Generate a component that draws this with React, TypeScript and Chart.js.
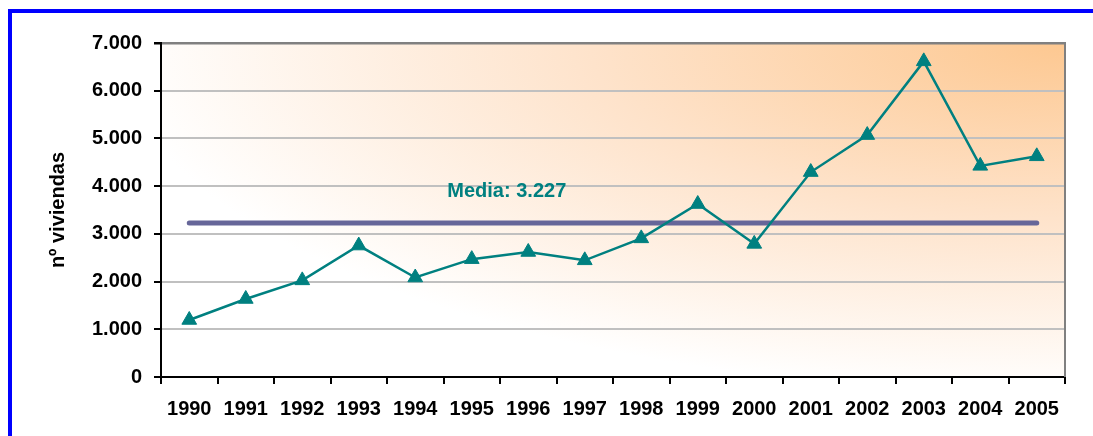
import React, { useEffect, useRef } from "react";
import { Chart, registerables } from "chart.js";

Chart.register(...registerables);

const years = ["1990", "1991", "1992", "1993", "1994", "1995", "1996", "1997", "1998", "1999", "2000", "2001", "2002", "2003", "2004", "2005"];
const viviendas = [1195, 1635, 2025, 2755, 2085, 2470, 2620, 2445, 2905, 3625, 2790, 4295, 5070, 6615, 4425, 4625];
const mediaValue = 3227;
const mediaLine = years.map(() => mediaValue);
const yAxisTitle = "nº viviendas";
const mediaPrefix = "Media: ";

const FONT = "'Liberation Sans', Arial, sans-serif";
const TEAL = "#008080";

const fmt = (v: number) => String(Math.round(v)).replace(/\B(?=(\d{3})+(?!\d))/g, ".");

const decorPlugin = {
  id: "decor",
  beforeDraw(chart: any) {
    const { ctx, chartArea: a } = chart;
    ctx.save();
    ctx.fillStyle = "#ffffff";
    ctx.fillRect(0, 0, chart.width, chart.height);
    ctx.fillStyle = "#0000FF";
    ctx.fillRect(8, 9, chart.width - 8, 4);
    ctx.fillRect(8, 9, 4, chart.height - 9);
    ctx.translate(a.left, a.top);
    ctx.scale(a.right - a.left, a.bottom - a.top);
    const g = ctx.createRadialGradient(1, 0, 0, 1, 0, 1.05);
    g.addColorStop(0, "#FDC891");
    g.addColorStop(0.5, "#FEE3CB");
    g.addColorStop(1, "#FFFFFF");
    ctx.fillStyle = g;
    ctx.fillRect(0, 0, 1, 1);
    ctx.restore();
  },
  afterDraw(chart: any) {
    const { ctx, chartArea: a } = chart;
    const xs = chart.scales.x;
    const ys = chart.scales.y;
    ctx.save();
    ctx.strokeStyle = "#808080";
    ctx.lineWidth = 2;
    ctx.beginPath();
    ctx.moveTo(a.right, a.top - 1);
    ctx.lineTo(a.right, a.bottom);
    ctx.stroke();
    ctx.fillStyle = "#000";
    ctx.font = `bold 20px ${FONT}`;
    ctx.textAlign = "center";
    ctx.textBaseline = "middle";
    ctx.translate(58, (a.top + a.bottom) / 2);
    ctx.rotate(-Math.PI / 2);
    ctx.fillText(yAxisTitle, 0, 0);
    ctx.restore();
    ctx.save();
    ctx.fillStyle = TEAL;
    ctx.font = `bold 20px ${FONT}`;
    ctx.textAlign = "center";
    ctx.textBaseline = "middle";
    ctx.fillText(mediaPrefix + fmt(mediaValue), xs.getPixelForValue(5.62), ys.getPixelForValue(mediaValue) - 32);
    ctx.restore();
  },
};

export default function App() {
  const ref = useRef<HTMLCanvasElement>(null);
  useEffect(() => {
    if (!ref.current) return;
    const chart = new Chart(ref.current, {
      type: "line",
      data: {
        labels: years,
        datasets: [
          {
            data: viviendas,
            borderColor: TEAL,
            backgroundColor: TEAL,
            borderWidth: 2.5,
            pointStyle: "triangle",
            pointRadius: 8.5,
            pointBorderWidth: 1,
            pointBackgroundColor: TEAL,
            pointBorderColor: TEAL,
            tension: 0,
            order: 1,
          },
          {
            data: mediaLine,
            borderColor: "#666699",
            borderWidth: 5,
            borderCapStyle: "round",
            pointRadius: 0,
            order: 2,
          },
        ],
      },
      options: {
        responsive: false,
        animation: false,
        layout: { padding: { top: 43, right: 28, left: 0, bottom: 0 } },
        plugins: { legend: { display: false }, tooltip: { enabled: false } },
        scales: {
          x: {
            type: "category",
            offset: true,
            afterFit: (s: any) => { s.height = 59; },
            grid: { offset: true, drawOnChartArea: false, drawTicks: true, tickLength: 7, tickColor: "#000", lineWidth: 2 },
            border: { color: "#000", width: 2 },
            ticks: { color: "#000", font: { family: FONT, size: 20, weight: "bold" }, padding: 13, maxRotation: 0, autoSkip: false },
          },
          y: {
            min: 0,
            max: 7000,
            afterFit: (s: any) => { s.width = 161; },
            grid: {
              color: (c: any) => (c.tick && c.tick.value === 7000 ? "#808080" : "#C0C0C0"),
              lineWidth: (c: any) => (c.tick && c.tick.value === 7000 ? 2.5 : 2),
              tickLength: 7,
              tickColor: "#000",
            },
            border: { color: "#000", width: 2 },
            ticks: {
              stepSize: 1000,
              color: "#000",
              padding: 12,
              font: { family: FONT, size: 20, weight: "bold" },
              callback: (v: any) => fmt(Number(v)),
            },
          },
        },
      },
      plugins: [decorPlugin],
    } as any);
    return () => chart.destroy();
  }, []);
  return (
    <div style={{ position: "absolute", left: 0, top: 0, width: 1093, height: 436 }}>
      <canvas ref={ref} width={1093} height={436} />
    </div>
  );
}
